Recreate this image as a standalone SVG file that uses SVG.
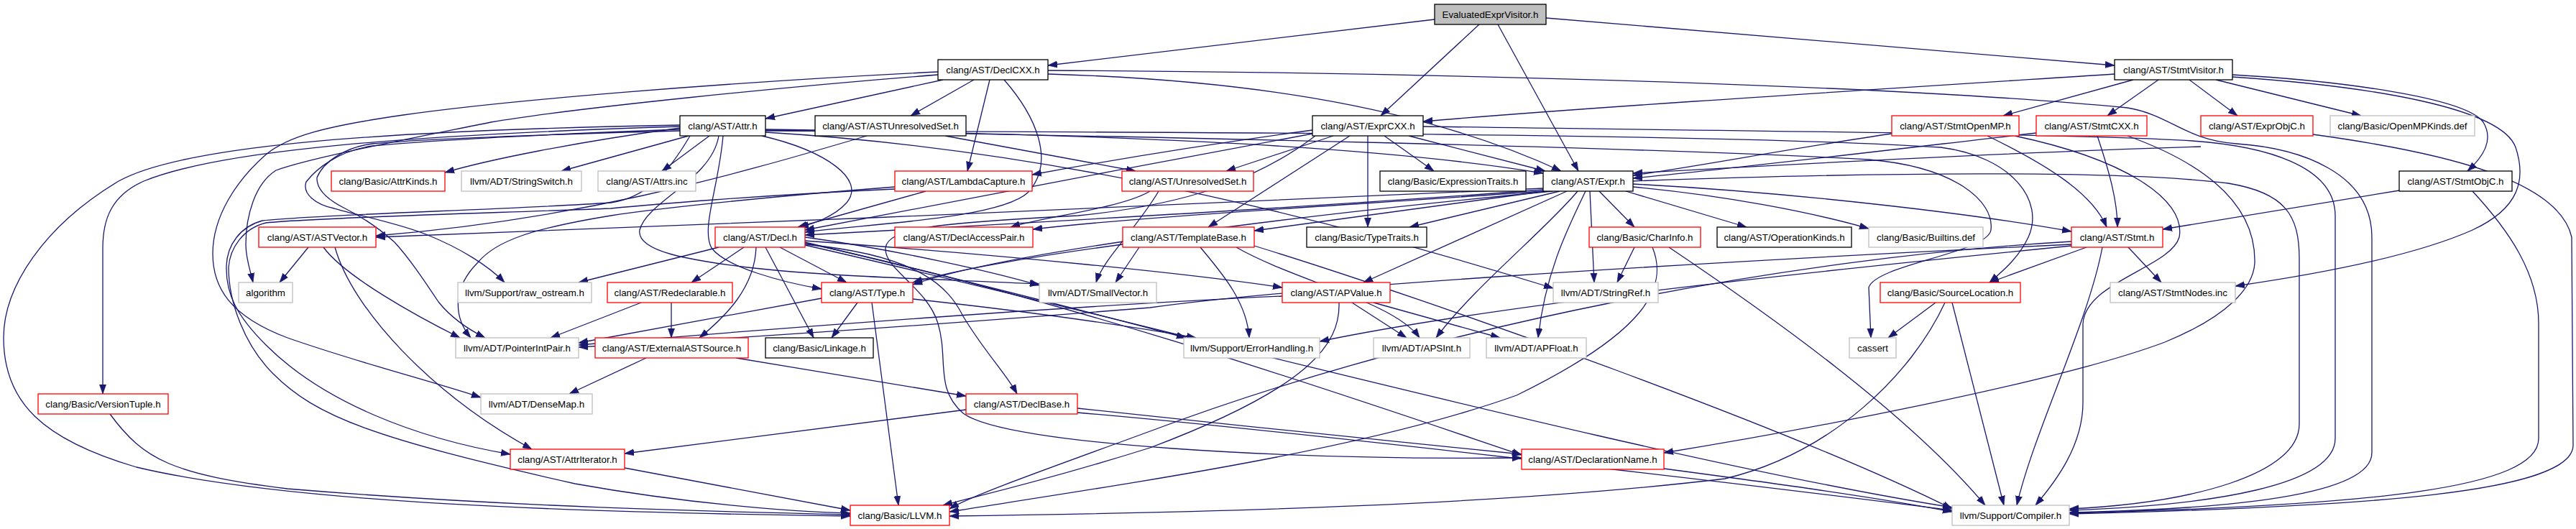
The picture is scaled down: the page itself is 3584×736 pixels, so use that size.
<svg xmlns="http://www.w3.org/2000/svg" width="3584" height="736" viewBox="0 0 3584 736">
<style>
.e{fill:none;stroke:#191970;stroke-width:1.3;marker-end:url(#a)}
rect{fill:#fff;stroke-width:1.3}
.k{stroke:#000}
.r{stroke:#ff0000}
.g{stroke:#bfbfbf}
.t{fill:#bfbfbf;stroke:#000}
text{font-family:"Liberation Sans",Arial,sans-serif;font-size:13.33px;text-anchor:middle;fill:#000}
</style>
<defs>
<marker id="a" viewBox="0 0 10 10" refX="10" refY="5" markerWidth="13" markerHeight="13" markerUnits="userSpaceOnUse" orient="auto">
<path d="M0,1.5 L10,5 L0,8.5 z" fill="#191970" stroke="#191970" stroke-width="0.5"/>
</marker>
</defs>
<rect x="0" y="0" width="3584" height="736" style="fill:#fff;stroke:none"/>
<g id="edges">
<path class="e" d="M1996,27 L1458,91"/>
<path class="e" d="M2058,34 L1921,161"/>
<path class="e" d="M2084,34 L2196,238"/>
<path class="e" d="M2151,25 L2942,91"/>
<path class="e" d="M1312,111 L1065,165"/>
<path class="e" d="M1355,111 L1267,161"/>
<path class="e" d="M1377,111 L1346,238"/>
<path class="e" d="M1397,111 C1440,160 1470,225 1430,268 C1390,305 1200,312 1120,323"/>
<path class="e" d="M1458,103 C1700,110 1960,140 2172,238"/>
<path class="e" d="M1458,98 C1900,100 2600,115 2960,150 C3020,160 3040,195 3112,200 C3200,206 3300,240 3300,330 L3300,630 C3300,690 3100,708 2879,713"/>
<path class="e" d="M1305,100 C1000,115 700,140 561,160 C450,176 400,190 370,215 C330,250 296,300 296,353 C296,400 320,440 400,470 C500,505 600,530 669,553"/>
<path class="e" d="M1305,104 C1100,120 800,150 683,170 C560,195 430,220 384,237 C355,255 342,300 342,340 C342,360 348,375 352,393"/>
<path class="e" d="M2942,103 C2600,125 2200,150 1980,169"/>
<path class="e" d="M2968,111 L2787,161"/>
<path class="e" d="M3003,111 L2932,161"/>
<path class="e" d="M3046,111 L3113,161"/>
<path class="e" d="M3083,111 L3285,161"/>
<path class="e" d="M3106,104 C3250,112 3430,135 3455,170 C3470,195 3455,218 3433,238"/>
<path class="e" d="M3106,107 C3300,120 3480,150 3500,205 C3515,250 3505,290 3440,320 C3350,360 3200,385 3110,398"/>
<path class="e" d="M946,178 C800,198 680,222 619,240"/>
<path class="e" d="M958,189 L781,238"/>
<path class="e" d="M987,189 L921,238"/>
<path class="e" d="M1060,189 C1150,210 1205,250 1178,282 C1160,302 1130,312 1112,316"/>
<path class="e" d="M1006,189 C1000,260 975,318 990,345 C1010,372 1090,393 1143,402"/>
<path class="e" d="M1065,180 C1500,186 1900,200 2147,241"/>
<path class="e" d="M960,189 C930,240 900,275 850,282 C700,292 450,298 365,307 C335,315 316,340 315,370 C314,410 330,440 370,480 C450,560 580,610 710,632"/>
<path class="e" d="M946,176 C500,190 290,215 200,252 C155,272 143,305 143,345 L143,548"/>
<path class="e" d="M946,174 C500,182 250,205 165,252 C60,315 5,400 5,470 C5,560 60,612 190,650 C400,700 800,713 1183,718"/>
<path class="e" d="M946,180 C800,185 600,195 518,203 C470,210 440,235 426,253 C420,270 440,285 465,290 C500,300 560,312 595,327 C640,345 680,370 702,393"/>
<path class="e" d="M946,182 C800,186 600,192 518,200 C480,205 450,225 441,247 C440,265 460,280 480,290 C510,305 530,320 549,337 C570,360 590,390 610,420 C630,445 655,460 675,470"/>
<path class="e" d="M1000,189 C990,250 900,280 890,320 C885,350 960,362 1040,372 C1150,385 1300,388 1446,395"/>
<path class="e" d="M1065,184 C1500,210 1900,320 2161,401"/>
<path class="e" d="M1065,182 C1700,184 2400,186 2700,205 C2800,218 2845,280 2822,330 C2808,360 2785,378 2768,393"/>
<path class="e" d="M1065,181 C1600,190 2300,205 2600,222 C2720,232 2775,280 2770,320 C2765,352 2610,368 2600,400 L2603,470"/>
<path class="e" d="M1206,189 C1000,250 800,305 523,328"/>
<path class="e" d="M1315,189 L1580,238"/>
<path class="e" d="M1855,189 L1706,238"/>
<path class="e" d="M1878,189 L1681,316"/>
<path class="e" d="M1903,189 L1903,316"/>
<path class="e" d="M1926,189 L1995,238"/>
<path class="e" d="M1960,189 L2150,238"/>
<path class="e" d="M1826,181 C1700,198 1550,222 1436,243"/>
<path class="e" d="M1826,186 C1600,228 1300,285 1120,320"/>
<path class="e" d="M1830,189 C1750,250 1650,285 1500,300 C1300,310 1235,318 1232,345 C1230,375 1290,400 1305,450 C1320,500 1300,540 1340,575 C1400,620 1800,640 2117,637"/>
<path class="e" d="M1980,176 C2400,182 2900,186 3050,196 C3150,203 3249,230 3249,300 L3249,610 C3249,675 3080,703 2879,710"/>
<path class="e" d="M2632,186 C2500,205 2360,232 2272,244"/>
<path class="e" d="M2765,189 C2850,230 2912,270 2931,316"/>
<path class="e" d="M2803,189 C2950,220 3042,275 3032,330 C3020,372 2902,392 2898,450 L2898,560 C2898,620 2860,670 2832,703"/>
<path class="e" d="M2918,189 C2935,240 2946,280 2946,316"/>
<path class="e" d="M2833,185 C2600,212 2400,236 2272,248"/>
<path class="e" d="M2960,189 C3060,225 3139,280 3137,366 C3135,400 3100,440 3012,476 C2860,533 2500,600 2315,630"/>
<path class="e" d="M3062,204 C2800,212 2500,228 2272,241"/>
<path class="e" d="M3218,187 C3400,212 3560,250 3578,330 L3580,620 C3578,685 3300,705 2879,715"/>
<path class="e" d="M3338,265 L3009,319"/>
<path class="e" d="M3440,266 C3490,320 3532,380 3532,450 L3532,610 C3532,680 3300,703 2879,714"/>
<path class="e" d="M2272,252 C2600,240 2950,236 3100,255 C3180,268 3199,300 3199,360 L3199,590 C3199,660 3050,700 2879,708"/>
<path class="e" d="M1600,266 C1560,290 1450,302 1406,316"/>
<path class="e" d="M1612,266 C1580,320 1535,360 1525,393"/>
<path class="e" d="M1288,266 L1110,316"/>
<path class="e" d="M1245,260 C1050,275 900,292 850,300 C740,318 690,335 665,365 C630,400 630,440 655,470"/>
<path class="e" d="M1245,263 C1050,272 900,285 850,290 C700,296 450,302 370,310 C338,318 320,345 318,372 C318,420 340,480 380,520 C440,580 520,610 800,673 C950,700 1100,712 1183,714"/>
<path class="e" d="M2147,262 C1800,280 1000,312 523,330"/>
<path class="e" d="M2147,264 C1800,290 1400,312 1120,327"/>
<path class="e" d="M2147,266 C1900,284 1600,300 1437,319"/>
<path class="e" d="M2150,266 L1745,321"/>
<path class="e" d="M2170,266 L1961,316"/>
<path class="e" d="M2225,266 L2274,316"/>
<path class="e" d="M2262,266 L2430,316"/>
<path class="e" d="M2272,260 C2400,272 2520,295 2600,318"/>
<path class="e" d="M2272,256 C2500,268 2750,298 2882,322"/>
<path class="e" d="M2160,266 C1800,300 1400,350 1270,396"/>
<path class="e" d="M2180,266 L1897,393"/>
<path class="e" d="M2195,266 C2150,320 2050,400 1998,470"/>
<path class="e" d="M2206,266 C2180,320 2150,380 2140,470"/>
<path class="e" d="M2212,266 L2218,393"/>
<path class="e" d="M2322,344 C2450,430 2650,570 2762,703"/>
<path class="e" d="M2299,344 C2322,400 2290,462 2110,550 C1900,625 1600,668 1321,712"/>
<path class="e" d="M2274,344 L2250,393"/>
<path class="e" d="M429,344 L389,393"/>
<path class="e" d="M450,344 C480,385 580,440 640,470"/>
<path class="e" d="M466,344 C490,430 600,548 740,625"/>
<path class="e" d="M1000,344 L805,393"/>
<path class="e" d="M1035,344 L962,393"/>
<path class="e" d="M1085,344 L1178,393"/>
<path class="e" d="M1065,344 L1132,470"/>
<path class="e" d="M1052,344 C1050,400 1010,440 973,470"/>
<path class="e" d="M1120,340 C1280,355 1320,400 1340,440 C1370,490 1400,520 1415,548"/>
<path class="e" d="M1120,335 C1400,355 1650,380 1784,400"/>
<path class="e" d="M1120,338 C1500,420 1900,560 2117,633"/>
<path class="e" d="M1120,341 C1600,450 2300,640 2716,706"/>
<path class="e" d="M1120,330 C1250,348 1380,378 1446,397"/>
<path class="e" d="M1120,337 C1300,380 1500,430 1650,470"/>
<path class="e" d="M1562,340 C1450,355 1330,375 1270,393"/>
<path class="e" d="M1585,344 L1552,393"/>
<path class="e" d="M1670,344 C1700,380 1735,420 1738,470"/>
<path class="e" d="M1720,344 C1800,390 1940,420 1975,470"/>
<path class="e" d="M1745,342 C2000,420 2500,600 2716,708"/>
<path class="e" d="M2903,344 L2768,393"/>
<path class="e" d="M2961,344 L3007,393"/>
<path class="e" d="M2925,344 C2905,450 2830,600 2806,703"/>
<path class="e" d="M2882,336 C2500,358 2000,450 1600,600 C1450,655 1350,690 1321,708"/>
<path class="e" d="M2882,340 C2300,368 1800,400 1600,428 C1300,452 1000,472 805,483"/>
<path class="e" d="M2882,342 C2600,370 2100,420 1836,475"/>
<path class="e" d="M2693,421 L2627,470"/>
<path class="e" d="M2716,421 L2788,703"/>
<path class="e" d="M2706,421 C2660,520 2550,630 2400,666 C2100,702 1700,713 1321,718"/>
<path class="e" d="M892,421 L766,470"/>
<path class="e" d="M934,421 L934,470"/>
<path class="e" d="M1143,415 L805,477"/>
<path class="e" d="M1193,421 L1157,470"/>
<path class="e" d="M1213,421 L1250,703"/>
<path class="e" d="M1270,416 C1400,430 1550,450 1664,470"/>
<path class="e" d="M1784,412 C1500,425 1100,455 805,480"/>
<path class="e" d="M1881,421 L1957,470"/>
<path class="e" d="M1911,421 L2087,470"/>
<path class="e" d="M1863,421 C1865,480 1820,540 1600,623 C1450,670 1360,690 1312,703"/>
<path class="e" d="M899,498 L792,548"/>
<path class="e" d="M1024,498 L1344,551"/>
<path class="e" d="M1344,570 L869,631"/>
<path class="e" d="M1499,568 C1700,590 1950,615 2117,632"/>
<path class="e" d="M1499,574 C1800,600 2400,670 2716,710"/>
<path class="e" d="M869,651 L1183,710"/>
<path class="e" d="M153,576 C200,640 240,660 400,680 C700,705 1000,712 1183,716"/>
<path class="e" d="M2315,652 C2450,670 2600,690 2716,712"/>
</g>
<g id="n0"><rect class="t" x="1996" y="6" width="155" height="28"/><text x="2073.5" y="25">EvaluatedExprVisitor.h</text></g>
<g id="DeclCXX"><rect class="k" x="1305" y="83" width="153" height="28"/><text x="1381.5" y="102">clang/AST/DeclCXX.h</text></g>
<g id="StmtVisitor"><rect class="k" x="2942" y="83" width="164" height="28"/><text x="3024" y="102">clang/AST/StmtVisitor.h</text></g>
<g id="Attr"><rect class="k" x="946" y="161" width="119" height="28"/><text x="1005.5" y="180">clang/AST/Attr.h</text></g>
<g id="ASTUnresolvedSet"><rect class="k" x="1134" y="161" width="210" height="28"/><text x="1239" y="180">clang/AST/ASTUnresolvedSet.h</text></g>
<g id="ExprCXX"><rect class="k" x="1826" y="161" width="154" height="28"/><text x="1903" y="180">clang/AST/ExprCXX.h</text></g>
<g id="StmtOpenMP"><rect class="r" x="2632" y="161" width="177" height="28"/><text x="2720.5" y="180">clang/AST/StmtOpenMP.h</text></g>
<g id="StmtCXX"><rect class="r" x="2833" y="161" width="154" height="28"/><text x="2910" y="180">clang/AST/StmtCXX.h</text></g>
<g id="ExprObjC"><rect class="r" x="3062" y="161" width="156" height="28"/><text x="3140" y="180">clang/AST/ExprObjC.h</text></g>
<g id="OpenMPKinds"><rect class="g" x="3242" y="161" width="201" height="28"/><text x="3342.5" y="180">clang/Basic/OpenMPKinds.def</text></g>
<g id="AttrKinds"><rect class="r" x="461" y="238" width="158" height="28"/><text x="540" y="257">clang/Basic/AttrKinds.h</text></g>
<g id="StringSwitch"><rect class="g" x="642" y="238" width="167" height="28"/><text x="725.5" y="257">llvm/ADT/StringSwitch.h</text></g>
<g id="AttrsInc"><rect class="g" x="832" y="238" width="136" height="28"/><text x="900" y="257">clang/AST/Attrs.inc</text></g>
<g id="LambdaCapture"><rect class="r" x="1245" y="238" width="191" height="28"/><text x="1340.5" y="257">clang/AST/LambdaCapture.h</text></g>
<g id="UnresolvedSet"><rect class="r" x="1561" y="238" width="183" height="28"/><text x="1652.5" y="257">clang/AST/UnresolvedSet.h</text></g>
<g id="ExpressionTraits"><rect class="k" x="1920" y="238" width="203" height="28"/><text x="2021.5" y="257">clang/Basic/ExpressionTraits.h</text></g>
<g id="Expr"><rect class="k" x="2147" y="238" width="125" height="28"/><text x="2209.5" y="257">clang/AST/Expr.h</text></g>
<g id="StmtObjC"><rect class="k" x="3338" y="238" width="157" height="28"/><text x="3416.5" y="257">clang/AST/StmtObjC.h</text></g>
<g id="ASTVector"><rect class="r" x="360" y="316" width="163" height="28"/><text x="441.5" y="335">clang/AST/ASTVector.h</text></g>
<g id="Decl"><rect class="r" x="995" y="316" width="125" height="28"/><text x="1057.5" y="335">clang/AST/Decl.h</text></g>
<g id="DeclAccessPair"><rect class="r" x="1245" y="316" width="192" height="28"/><text x="1341" y="335">clang/AST/DeclAccessPair.h</text></g>
<g id="TemplateBase"><rect class="r" x="1562" y="316" width="183" height="28"/><text x="1653.5" y="335">clang/AST/TemplateBase.h</text></g>
<g id="TypeTraits"><rect class="k" x="1818" y="316" width="167" height="28"/><text x="1901.5" y="335">clang/Basic/TypeTraits.h</text></g>
<g id="CharInfo"><rect class="r" x="2211" y="316" width="155" height="28"/><text x="2288.5" y="335">clang/Basic/CharInfo.h</text></g>
<g id="OperationKinds"><rect class="k" x="2389" y="316" width="187" height="28"/><text x="2482.5" y="335">clang/AST/OperationKinds.h</text></g>
<g id="Builtins"><rect class="g" x="2600" y="316" width="159" height="28"/><text x="2679.5" y="335">clang/Basic/Builtins.def</text></g>
<g id="Stmt"><rect class="r" x="2882" y="316" width="127" height="28"/><text x="2945.5" y="335">clang/AST/Stmt.h</text></g>
<g id="algorithm"><rect class="g" x="332" y="393" width="75" height="28"/><text x="369.5" y="412">algorithm</text></g>
<g id="raw_ostream"><rect class="g" x="637" y="393" width="186" height="28"/><text x="730" y="412">llvm/Support/raw_ostream.h</text></g>
<g id="Redeclarable"><rect class="r" x="845" y="393" width="174" height="28"/><text x="932" y="412">clang/AST/Redeclarable.h</text></g>
<g id="Type"><rect class="r" x="1143" y="393" width="127" height="28"/><text x="1206.5" y="412">clang/AST/Type.h</text></g>
<g id="SmallVector"><rect class="g" x="1446" y="393" width="163" height="28"/><text x="1527.5" y="412">llvm/ADT/SmallVector.h</text></g>
<g id="APValue"><rect class="r" x="1784" y="393" width="150" height="28"/><text x="1859" y="412">clang/AST/APValue.h</text></g>
<g id="StringRef"><rect class="g" x="2161" y="393" width="146" height="28"/><text x="2234" y="412">llvm/ADT/StringRef.h</text></g>
<g id="SourceLocation"><rect class="r" x="2616" y="393" width="195" height="28"/><text x="2713.5" y="412">clang/Basic/SourceLocation.h</text></g>
<g id="StmtNodes"><rect class="g" x="2936" y="393" width="174" height="28"/><text x="3023" y="412">clang/AST/StmtNodes.inc</text></g>
<g id="PointerIntPair"><rect class="g" x="634" y="470" width="171" height="28"/><text x="719.5" y="489">llvm/ADT/PointerIntPair.h</text></g>
<g id="ExternalASTSource"><rect class="r" x="828" y="470" width="213" height="28"/><text x="934.5" y="489">clang/AST/ExternalASTSource.h</text></g>
<g id="Linkage"><rect class="k" x="1065" y="470" width="150" height="28"/><text x="1140" y="489">clang/Basic/Linkage.h</text></g>
<g id="ErrorHandling"><rect class="g" x="1647" y="470" width="189" height="28"/><text x="1741.5" y="489">llvm/Support/ErrorHandling.h</text></g>
<g id="APSInt"><rect class="g" x="1911" y="470" width="134" height="28"/><text x="1978" y="489">llvm/ADT/APSInt.h</text></g>
<g id="APFloat"><rect class="g" x="2068" y="470" width="139" height="28"/><text x="2137.5" y="489">llvm/ADT/APFloat.h</text></g>
<g id="cassert"><rect class="g" x="2573" y="470" width="65" height="28"/><text x="2605.5" y="489">cassert</text></g>
<g id="VersionTuple"><rect class="r" x="53" y="548" width="181" height="28"/><text x="143.5" y="567">clang/Basic/VersionTuple.h</text></g>
<g id="DenseMap"><rect class="g" x="669" y="548" width="155" height="28"/><text x="746.5" y="567">llvm/ADT/DenseMap.h</text></g>
<g id="DeclBase"><rect class="r" x="1344" y="548" width="155" height="28"/><text x="1421.5" y="567">clang/AST/DeclBase.h</text></g>
<g id="AttrIterator"><rect class="r" x="710" y="625" width="159" height="28"/><text x="789.5" y="644">clang/AST/AttrIterator.h</text></g>
<g id="DeclarationName"><rect class="r" x="2117" y="625" width="198" height="28"/><text x="2216" y="644">clang/AST/DeclarationName.h</text></g>
<g id="LLVM"><rect class="r" x="1183" y="703" width="138" height="28"/><text x="1252" y="722">clang/Basic/LLVM.h</text></g>
<g id="Compiler"><rect class="g" x="2716" y="703" width="163" height="28"/><text x="2797.5" y="722">llvm/Support/Compiler.h</text></g>
</svg>
